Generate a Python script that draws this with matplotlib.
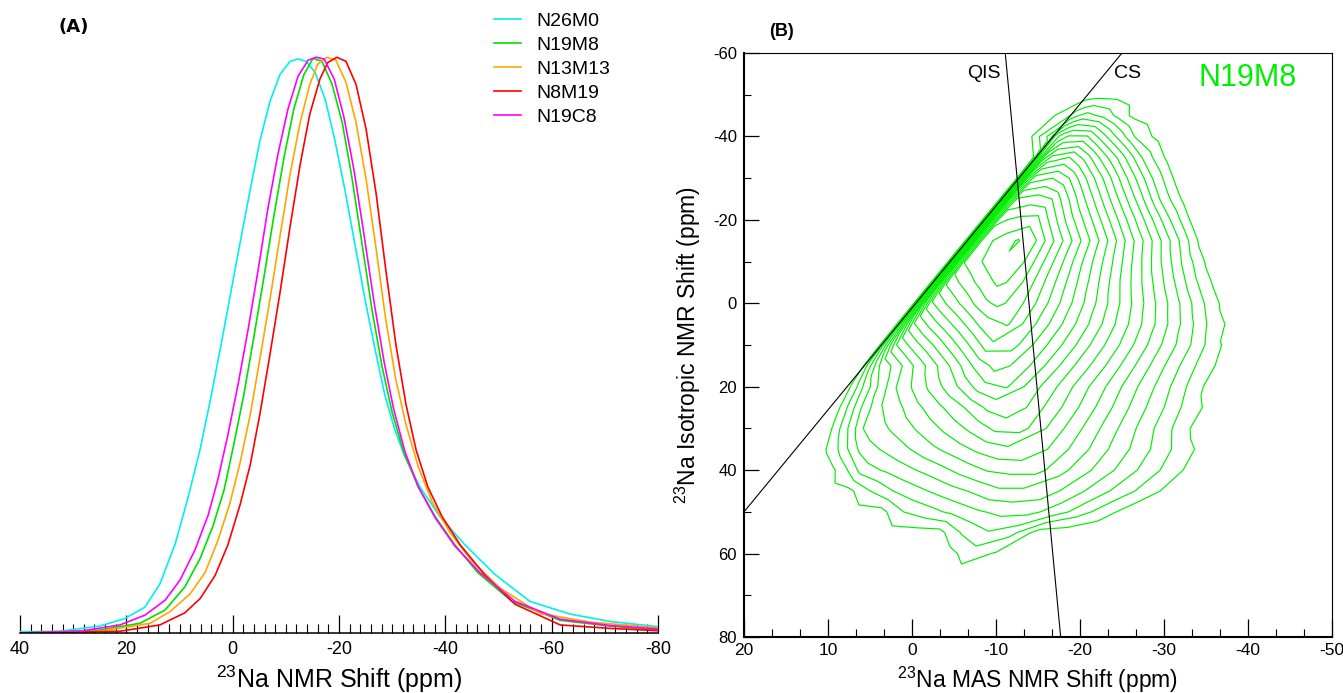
import numpy as np
import matplotlib
matplotlib.use('Agg')
import matplotlib.pyplot as plt
from matplotlib.ticker import MultipleLocator

plt.rcParams['font.family'] = ['Liberation Sans', 'DejaVu Sans']
plt.rcParams['mathtext.fontset'] = 'custom'
plt.rcParams['mathtext.rm'] = 'Liberation Sans'
plt.rcParams['axes.unicode_minus'] = False

# ---------- (A) 1D 23Na MAS spectra (normalised intensity) ----------
ppm_n26m0 = [40.0, 32.5, 25.0, 20.3, 16.5, 13.7, 10.8, 8.4, 6.1, 4.3, 2.4, 0.5, -1.4, -3.3, -5.1, -7.0,
             -8.9, -10.8, -12.3, -13.8, -15.5, -17.4, -19.2, -21.1, -23.0, -24.9, -26.8, -28.6, -30.5,
             -32.4, -35.2, -39.0, -43.7, -49.3, -55.9, -63.4, -71.0, -80.0]
int_n26m0 = [0.002, 0.003, 0.012, 0.025, 0.045, 0.085, 0.155, 0.235, 0.32, 0.4, 0.49, 0.584, 0.678,
             0.770, 0.854, 0.923, 0.970, 0.993, 0.997, 0.993, 0.974, 0.927, 0.857, 0.770, 0.675, 0.579,
             0.492, 0.414, 0.353, 0.306, 0.254, 0.202, 0.153, 0.102, 0.055, 0.033, 0.02, 0.011]

ppm_n19m8 = [40.0, 25.0, 17.4, 12.7, 9.0, 6.1, 3.7, 1.6, -0.2, -2.1, -4.0, -5.9, -7.8, -9.7, -11.5, -13.4,
             -15.1, -16.8, -18.7, -20.6, -22.4, -24.3, -26.2, -28.1, -30.0, -32.2, -34.9, -38.1, -41.8,
             -46.1, -52.5, -61.6, -71.0, -80.0]
int_n19m8 = [0.0, 0.005, 0.017, 0.04, 0.08, 0.13, 0.186, 0.249, 0.327, 0.414, 0.515, 0.619, 0.727, 0.828,
             0.910, 0.970, 0.998, 0.993, 0.953, 0.887, 0.793, 0.678, 0.562, 0.463, 0.383, 0.313, 0.254,
             0.202, 0.153, 0.105, 0.055, 0.022, 0.012, 0.005]

ppm_n13m13 = [40.0, 25.0, 15.5, 11.8, 8.0, 5.2, 2.8, 0.5, -1.4, -3.3, -5.1, -7.0, -8.9, -10.8, -12.7,
              -14.5, -16.0, -17.7, -19.4, -21.3, -23.2, -25.1, -27.0, -28.8, -30.7, -32.6, -34.9, -37.5,
              -40.9, -45.0, -50.3, -57.8, -67.2, -80.0]
int_n13m13 = [0.0, 0.003, 0.017, 0.037, 0.068, 0.105, 0.16, 0.226, 0.296, 0.379, 0.475, 0.579, 0.689,
              0.797, 0.887, 0.953, 0.988, 1.0, 0.995, 0.957, 0.887, 0.788, 0.666, 0.544, 0.440, 0.362,
              0.289, 0.228, 0.174, 0.125, 0.078, 0.034, 0.019, 0.009]

ppm_n8m19 = [40.0, 21.2, 13.7, 9.0, 6.1, 3.3, 0.9, -1.4, -3.3, -5.1, -7.0, -8.9, -10.8, -12.7, -14.5,
             -16.4, -17.9, -19.6, -21.3, -23.2, -25.1, -27.0, -28.8, -30.7, -32.6, -34.5, -36.7, -39.4,
             -42.8, -47.5, -53.1, -61.6, -71.0, -80.0]
int_n8m19 = [0.0, 0.003, 0.014, 0.035, 0.06, 0.1, 0.153, 0.223, 0.292, 0.379, 0.483, 0.591, 0.706, 0.814,
             0.901, 0.962, 0.991, 1.0, 0.993, 0.953, 0.875, 0.762, 0.631, 0.501, 0.397, 0.318, 0.254,
             0.202, 0.153, 0.1, 0.05, 0.014, 0.008, 0.004]

ppm_n19c8 = [40.0, 28.7, 21.2, 16.5, 12.7, 9.9, 7.1, 4.6, 2.8, 0.9, -1.0, -2.9, -4.8, -6.6, -8.5, -10.4,
             -12.3, -14.2, -15.7, -17.2, -19.1, -20.9, -22.8, -24.7, -26.6, -28.5, -30.3, -32.4, -34.9,
             -38.1, -41.8, -46.5, -53.1, -61.6, -71.0, -80.0]
int_n19c8 = [0.0, 0.003, 0.014, 0.031, 0.057, 0.092, 0.144, 0.205, 0.266, 0.344, 0.431, 0.527, 0.631,
             0.736, 0.831, 0.910, 0.967, 0.995, 1.0, 0.997, 0.962, 0.897, 0.805, 0.692, 0.574, 0.470,
             0.388, 0.315, 0.254, 0.200, 0.151, 0.105, 0.055, 0.024, 0.013, 0.007]

names = ['N26M0', 'N19M8', 'N13M13', 'N8M19', 'N19C8']
colors = ['#00f0f0', '#00e000', '#ffa500', '#ff0000', '#ff00ff']

# ---------- (B) 3QMAS of N19M8 ----------
# CS and QIS reference lines (MAS ppm, isotropic ppm)
cs_x, cs_y = [20, -25], [50, -60]
qis_x, qis_y = [-11.1, -17.7], [-60, 80]

# contour count read off the map, sampled on rows of isotropic shift and
# columns of distance (ppm) to the right of the CS line
iso_rows = [-55, -50, -45, -40, -35, -30, -25, -20, -15, -10, -5, 0, 5, 10, 15, 20,
            25, 30, 35, 40, 45, 50, 55, 60, 65]
cs_dist = [-3, -0.3, 0.3, 1.0, 1.8, 4, 6, 8, 10, 13, 16, 19, 22, 25, 28, 31, 34, 37, 40, 43,
           46, 49, 52, 55]
counts = [
    [],
    [],
    [0, 1.2, 2.0, 2.5, 2.9, 2.2, 1.0],
    [0, 3.0, 5.0, 6.0, 6.6, 6.6, 4.8, 3.0, 1.2],
    [0, 0.5, 4.5, 8.0, 9.7, 10.5, 9.0, 7.0, 5.1, 2.1],
    [0, 0, 5, 10.5, 12.9, 13.5, 12.5, 10.5, 8.5, 5.4, 2.4],
    [0, 0, 6, 12.5, 15.6, 16, 15.5, 13.5, 11.4, 8.4, 5.4, 2.3],
    [0, 0, 6.5, 13.5, 17.3, 17.8, 18, 16.1, 14.1, 11.3, 8.4, 5.5, 2.6],
    [0, 0, 6.5, 14, 18.0, 18.9, 19.6, 18.7, 16.8, 14.0, 11.2, 8.3, 5.5, 2.7],
    [0, 0, 6.5, 13.5, 17.6, 18.6, 19.4, 19.2, 17.5, 14.9, 12.3, 9.8, 7.2, 4.6, 2.1],
    [0, 0, 6, 12, 15.8, 17.0, 18.0, 18.8, 18.0, 15.7, 13.4, 11.1, 8.7, 6.4, 4.1, 1.8],
    [0, 0, 5, 10, 13.3, 14.8, 16.0, 17.2, 17.8, 16.4, 14.3, 12.2, 10.1, 8.0, 5.9, 3.8, 1.7],
    [0, 0, 4, 7.5, 10.4, 12.0, 13.3, 14.6, 15.9, 16.6, 14.7, 12.8, 10.9, 9.0, 7.1, 5.2, 3.2, 1.3],
    [0, 0, 2.8, 5.2, 7.5, 9.1, 10.4, 11.8, 13.2, 15.3, 14.7, 12.9, 11.2, 9.4, 7.7, 5.9, 4.1, 2.4, 0.6],
    [0, 0, 1.5, 3.0, 4.5, 6.1, 7.6, 9.0, 10.4, 12.6, 14, 12.9, 11.2, 9.5, 7.9, 6.2, 4.5, 2.8, 1.2],
    [0, 0, 0.4, 1.2, 2.4, 4.9, 6.6, 7.7, 8.8, 10.4, 12.1, 12.6, 11.0, 9.5, 7.9, 6.4, 4.8, 3.3, 1.7, 0.2],
    [0, 0, 0, 0.3, 1.2, 3.8, 5.4, 6.2, 7.1, 8.3, 9.5, 10.8, 11.2, 9.7, 8.3, 6.8, 5.3, 3.8, 2.4, 0.9],
    [0, 0, 0, 0, 0, 2.3, 4.5, 5.2, 5.8, 6.8, 7.8, 8.8, 9.8, 9.8, 8.4, 7.0, 5.6, 4.2, 2.8, 1.4],
    [0, 0, 0, 0, 0, 0.6, 2.3, 4.0, 4.5, 5.3, 6.2, 7.0, 7.8, 8.3, 8.3, 7.1, 5.9, 4.6, 3.4, 2.2, 1.0],
    [0, 0, 0, 0, 0, 0, 0, 1.3, 3.0, 3.7, 4.4, 5.1, 5.9, 6.6, 6.8, 6.8, 5.7, 4.6, 3.5, 2.4, 1.3, 0.2],
    [0, 0, 0, 0, 0, 0, 0, 0, 0, 1.5, 2.6, 3.3, 4.0, 4.6, 5.3, 5.3, 5.0, 4.0, 3.0, 2.0, 1.0],
    [0, 0, 0, 0, 0, 0, 0, 0, 0, 0, 0, 1.5, 2.1, 2.8, 3.4, 3.8, 3.8, 3.1, 2.0, 0.9],
    [0, 0, 0, 0, 0, 0, 0, 0, 0, 0, 0, 0, 0, 0, 1.6, 2.4, 1.8],
    [0, 0, 0, 0, 0, 0, 0, 0, 0, 0, 0, 0, 0, 0, 0, 1.0, 0.4],
    [],
]

fig = plt.figure(figsize=(13.43, 6.93), dpi=100)
W, H = 1343, 693

# ---- panel A ----
axA = fig.add_axes([20 / W, 60 / H, 638 / W, 593 / H])
spectra = [(ppm_n26m0, int_n26m0), (ppm_n19m8, int_n19m8), (ppm_n13m13, int_n13m13),
           (ppm_n8m19, int_n8m19), (ppm_n19c8, int_n19c8)]
for (px, py), name, c in zip(spectra, names, colors):
    axA.plot(px, py, color=c, lw=1.2, label=name)
axA.set_xlim(40, -80)
axA.set_ylim(0, 1.03)
axA.set_yticks([])
for s in ['left', 'top', 'right']:
    axA.spines[s].set_visible(False)
axA.spines['bottom'].set_linewidth(1.1)
axA.xaxis.set_major_locator(MultipleLocator(20))
axA.xaxis.set_minor_locator(MultipleLocator(2))
axA.tick_params(axis='x', which='major', direction='in', length=13, width=0.9, labelsize=13, pad=6)
axA.tick_params(axis='x', which='minor', direction='in', length=6.5, width=0.8)
axA.set_xlabel(r'$^{23}$Na NMR Shift (ppm)', fontsize=18, labelpad=4)

fig.legend(loc='upper left', bbox_to_anchor=(494 / W, 1 - 12 / H), frameon=False, fontsize=14,
           handlelength=1.4, handletextpad=0.8, labelspacing=0.33, borderpad=0, borderaxespad=0)

fig.text(74 / W, 1 - 27 / H, '(A)', ha='center', va='center', fontsize=13, fontweight='bold',
         family='DejaVu Sans')

# ---- panel B ----
axB = fig.add_axes([744 / W, 56 / H, 588 / W, 584 / H])
slope = (cs_y[1] - cs_y[0]) / (cs_x[1] - cs_x[0])
iso = np.array(iso_rows, dtype=float)
dist = np.array(cs_dist, dtype=float)
x_on_cs = cs_x[0] + (iso - cs_y[0]) / slope
X = x_on_cs[:, None] - dist[None, :]
Y = np.repeat(iso[:, None], len(dist), axis=1)
Z = np.array([r + [0] * (len(dist) - len(r)) for r in counts], dtype=float)
axB.contour(X, Y, Z, levels=np.arange(0.5, 20, 1.0), colors='#00ee00', linewidths=0.85)

axB.plot(cs_x, cs_y, color='black', lw=0.8)
axB.plot(qis_x, qis_y, color='black', lw=0.8)
axB.text(-8.6, -55.2, 'QIS', ha='center', va='center', fontsize=14)
axB.text(-25.6, -55.2, 'CS', ha='center', va='center', fontsize=14)
axB.text(-40, -54, 'N19M8', ha='center', va='center', fontsize=22, color='#00ee00')

axB.set_xlim(20, -50)
axB.set_ylim(80, -60)
axB.xaxis.set_major_locator(MultipleLocator(10))
axB.xaxis.set_minor_locator(MultipleLocator(10 / 3))
axB.yaxis.set_major_locator(MultipleLocator(20))
axB.yaxis.set_minor_locator(MultipleLocator(10))
axB.tick_params(axis='x', which='major', direction='in', length=13, width=0.9, labelsize=12.5, pad=4)
axB.tick_params(axis='x', which='minor', direction='in', length=6, width=0.8)
axB.tick_params(axis='y', which='major', direction='in', length=11, width=0.9, labelsize=12, pad=5)
axB.tick_params(axis='y', which='minor', direction='in', length=5, width=0.8)
for s in ['left', 'bottom']:
    axB.spines[s].set_linewidth(1.5)
for s in ['top', 'right']:
    axB.spines[s].set_linewidth(0.8)
axB.set_xlabel(r'$^{23}$Na MAS NMR Shift (ppm)', fontsize=16.5, labelpad=5)
axB.set_ylabel(r'$^{23}$Na Isotropic NMR Shift (ppm)', fontsize=16.5, labelpad=7)

fig.text(781 / W, 1 - 32 / H, '(B)', ha='center', va='center', fontsize=13, fontweight='bold')

fig.savefig('out.png', dpi=100)
